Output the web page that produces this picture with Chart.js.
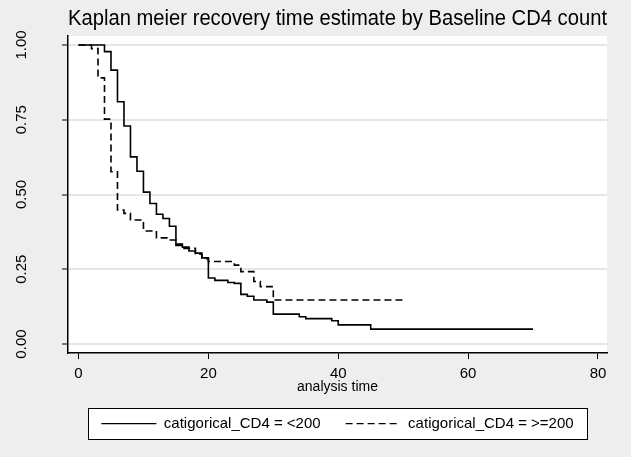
<!DOCTYPE html>
<html>
<head>
<meta charset="utf-8">
<script src="https://cdn.jsdelivr.net/npm/chart.js@4/dist/chart.umd.min.js"></script>
<style>
  html, body { margin: 0; padding: 0; background: #eeeeee; }
  #wrap { width: 631px; height: 457px; }
</style>
</head>
<body>
<div id="wrap"><canvas id="km"></canvas></div>
<script>
// Curva Kaplan-Meier por CD4 basal
const timesLow = [0, 4, 5, 6, 7, 8, 9, 10, 11, 12, 13, 14, 15, 16, 17, 18, 19, 20, 21, 23, 24, 25, 26, 27, 29, 30, 34, 35, 39, 40, 45, 70];
const survLow = [1.0, 0.978, 0.916, 0.81, 0.729, 0.626, 0.578, 0.508, 0.47, 0.434, 0.42, 0.394, 0.334, 0.324, 0.311, 0.304, 0.288, 0.221, 0.213, 0.206, 0.203, 0.166, 0.16, 0.147, 0.14, 0.10, 0.091, 0.085, 0.078, 0.064, 0.05, 0.05];

const timesHigh = [0, 2, 3, 4, 5, 6, 7, 8, 10, 12, 14, 15, 16, 18, 19, 20, 24, 25, 27, 28, 30, 50];
const survHigh = [1.0, 0.988, 0.89, 0.752, 0.576, 0.448, 0.437, 0.415, 0.378, 0.355, 0.348, 0.33, 0.32, 0.30, 0.285, 0.276, 0.264, 0.242, 0.209, 0.192, 0.147, 0.147];

const seriesLabels = ['catigorical_CD4 = <200', 'catigorical_CD4 = >=200'];
const xTicks = [0, 20, 40, 60, 80];
const yTicks = [0, 0.25, 0.5, 0.75, 1];

const FONT = "'Liberation Sans', Arial, sans-serif";
const GRID = '#e6e6e6';

const toPoints = (xs, ys) => xs.map((x, i) => ({ x, y: ys[i] }));

// Rectángulo que enmarca la leyenda (a partir de las cajas de Chart.js)
function legendFrame(chart) {
    const boxes = chart.legend && chart.legend.legendHitBoxes;
    if (!boxes || !boxes.length) return null;
    const left = Math.min(...boxes.map(b => b.left)) - 13;
    const right = Math.max(...boxes.map(b => b.left + b.width)) + 14;
    const top = boxes[0].top - 8;
    const bottom = boxes[0].top + boxes[0].height + 8;
    return { x: Math.round(left) + 0.5, y: Math.round(top) + 0.5, w: Math.round(right - left), h: Math.round(bottom - top) };
}

// Fondo gris, región del trazado en blanco y fondo blanco de la leyenda
const backgroundPlugin = {
    id: 'background',
    beforeDraw(chart) {
        const { ctx, chartArea: a } = chart;
        ctx.save();
        ctx.fillStyle = '#eeeeee';
        ctx.fillRect(0, 0, chart.width, chart.height);
        ctx.fillStyle = '#ffffff';
        ctx.fillRect(a.left, a.top, a.right - a.left, a.bottom - a.top);
        const f = legendFrame(chart);
        if (f) ctx.fillRect(f.x, f.y, f.w, f.h);
        ctx.restore();
    }
};

// Etiquetas del eje Y giradas (estilo Stata) y marco de la leyenda
const decorPlugin = {
    id: 'decor',
    afterDraw(chart) {
        const { ctx } = chart;
        const yScale = chart.scales.y;
        ctx.save();
        ctx.fillStyle = '#000';
        ctx.font = `15px ${FONT}`;
        ctx.textAlign = 'center';
        ctx.textBaseline = 'middle';
        yTicks.forEach((v) => {
            ctx.save();
            ctx.translate(22, yScale.getPixelForValue(v));
            ctx.rotate(-Math.PI / 2);
            ctx.fillText(v.toFixed(2), 0, 0);
            ctx.restore();
        });
        const f = legendFrame(chart);
        if (f) {
            ctx.strokeStyle = '#000';
            ctx.lineWidth = 1;
            ctx.strokeRect(f.x, f.y, f.w, f.h);
        }
        ctx.restore();
    }
};

// La muestra de la leyenda usa el trazo (continuo / discontinuo) de cada serie
const baseLabels = Chart.defaults.plugins.legend.labels.generateLabels;
function legendLabels(chart) {
    return baseLabels(chart).map((item) => {
        const ds = chart.data.datasets[item.datasetIndex];
        item.lineDash = ds.borderDash || [];
        item.lineWidth = 1.3;
        item.strokeStyle = '#000';
        return item;
    });
}

new Chart(document.getElementById('km'), {
    type: 'line',
    data: {
        datasets: [
            { label: seriesLabels[0], data: toPoints(timesLow, survLow), borderColor: '#000', borderWidth: 1.6, stepped: 'before', pointRadius: 0, fill: false },
            { label: seriesLabels[1], data: toPoints(timesHigh, survHigh), borderColor: '#000', borderWidth: 1.6, borderDash: [7, 4], stepped: 'before', pointRadius: 0, fill: false }
        ]
    },
    options: {
        responsive: true,
        maintainAspectRatio: false,
        animation: false,
        layout: { padding: { left: 62, right: 24, top: 0, bottom: 15.8 } },
        plugins: {
            title: {
                display: true,
                fullSize: false,
                text: 'Kaplan meier recovery time estimate by Baseline CD4 count',
                color: '#000',
                font: { family: FONT, size: 21.7, weight: 'normal', lineHeight: 1.2 },
                padding: { top: 6.4, bottom: 3.6 }
            },
            legend: {
                position: 'bottom',
                fullSize: false,
                labels: {
                    color: '#000',
                    font: { family: FONT, size: 15 },
                    usePointStyle: true,
                    pointStyle: 'line',
                    pointStyleWidth: 55,
                    padding: 25,
                    generateLabels: legendLabels
                }
            },
            tooltip: { enabled: false }
        },
        scales: {
            x: {
                type: 'linear',
                min: -1.62,
                max: 81.39,
                afterBuildTicks: (s) => { s.ticks = xTicks.map(v => ({ value: v })); },
                ticks: { color: '#000', font: { family: FONT, size: 15, lineHeight: 1 }, padding: 7, maxRotation: 0, callback: (v) => String(v) },
                grid: { drawOnChartArea: false, tickColor: '#000', tickLength: 6, tickWidth: 1 },
                border: { color: '#000', width: 1.5 },
                title: { display: true, text: 'analysis time', color: '#000', font: { family: FONT, size: 14, lineHeight: 0.55 }, padding: { top: -4.5, bottom: 0 } }
            },
            y: {
                type: 'linear',
                min: -0.03,
                max: 1.03,
                afterBuildTicks: (s) => { s.ticks = yTicks.map(v => ({ value: v })); },
                ticks: { display: false },
                grid: { color: GRID, lineWidth: 2, tickColor: '#000', tickLength: 6, tickWidth: 1 },
                border: { color: '#000', width: 1.5 }
            }
        }
    },
    plugins: [backgroundPlugin, decorPlugin]
});
</script>
</body>
</html>
